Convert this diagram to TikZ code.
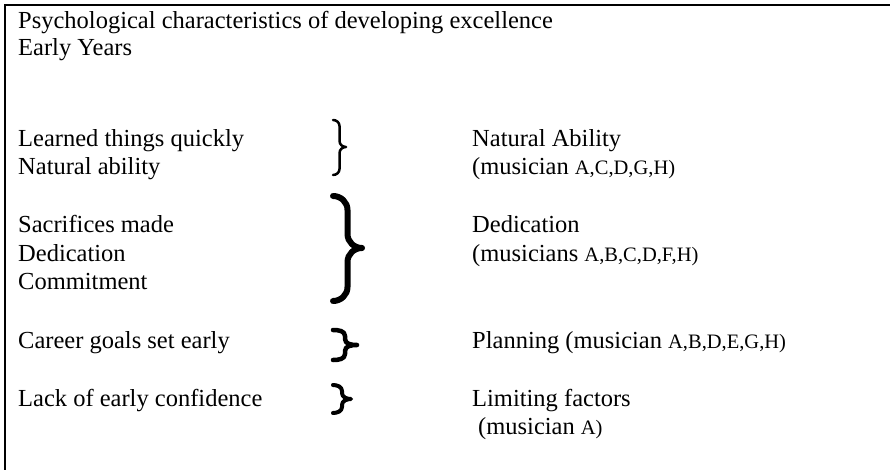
\documentclass[tikz,border=0pt]{standalone}
\usepackage{fontspec}
\setmainfont{Liberation Serif}
\usetikzlibrary{calc}

\newcommand{\ids}[1]{{\fontsize{20.5}{24}\selectfont #1}}
% width, left x, right x, top y, tip y, bottom y, curl
\newcommand{\curl}[7]{%
    \pgfmathsetmacro{\xm}{(#2+#3)/2}
    \pgfmathsetmacro{\ya}{#4+#7}
    \pgfmathsetmacro{\yb}{#5-#7}
    \pgfmathsetmacro{\yc}{#5+#7}
    \pgfmathsetmacro{\yd}{#6-#7}
    \draw[line width=#1, line cap=round, line join=round]
        (#2,#4) to[out=0,in=90] (\xm,\ya) -- (\xm,\yb)
        to[out=-90,in=180] (#3,#5) to[out=180,in=90] (\xm,\yc)
        -- (\xm,\yd) to[out=-90,in=0] (#2,#6);
}

\begin{document}
\begin{tikzpicture}[x=1pt, y=-1pt,
    txt/.style={anchor=base west, inner sep=0pt, font=\fontsize{24.5}{28}\selectfont}]

    \useasboundingbox (0,0) rectangle (890,470);
    \draw[line width=2pt] (5,470) -- (5,5.5) -- (890,5.5);

    \node[txt] (title) at (18,29) {Psychological characteristics of developing excellence};
    \node[txt] (years) at (18,56) {Early Years};

    \foreach \n/\y/\t in {learn/147/Learned things quickly, natab/175/Natural ability,
            sacr/233/Sacrifices made, dedi/261/Dedication, comm/289/Commitment,
            career/348/Career goals set early, lack/406/Lack of early confidence}{
            \node[txt] (\n) at (18,\y) {\t};
        }

    \node[txt] (abil) at (472,147) {Natural Ability};
    \node[txt] (abilmus) at (472,175) {(musician \ids{A,C,D,G,H)}};
    \node[txt] (ded) at (472,233) {Dedication};
    \node[txt] (dedmus) at (472,261) {(musicians \ids{A,B,C,D,F,H)}};
    \node[txt] (plan) at (472,348) {Planning (musician \ids{A,B,D,E,G,H)}};
    \node[txt] (limit) at (472,406) {Limiting factors};
    \node[txt] (limitmus) at (478,434) {(musician \ids{A)}};

    \curl{2.5pt}{333}{346}{120}{147}{175}{6}
    \curl{6pt}{333}{362}{196}{248}{301}{14}
    \curl{4.5pt}{333}{357}{330}{345}{360}{6}
    \curl{4pt}{333}{351}{385}{399}{413}{6}

\end{tikzpicture}
\end{document}
